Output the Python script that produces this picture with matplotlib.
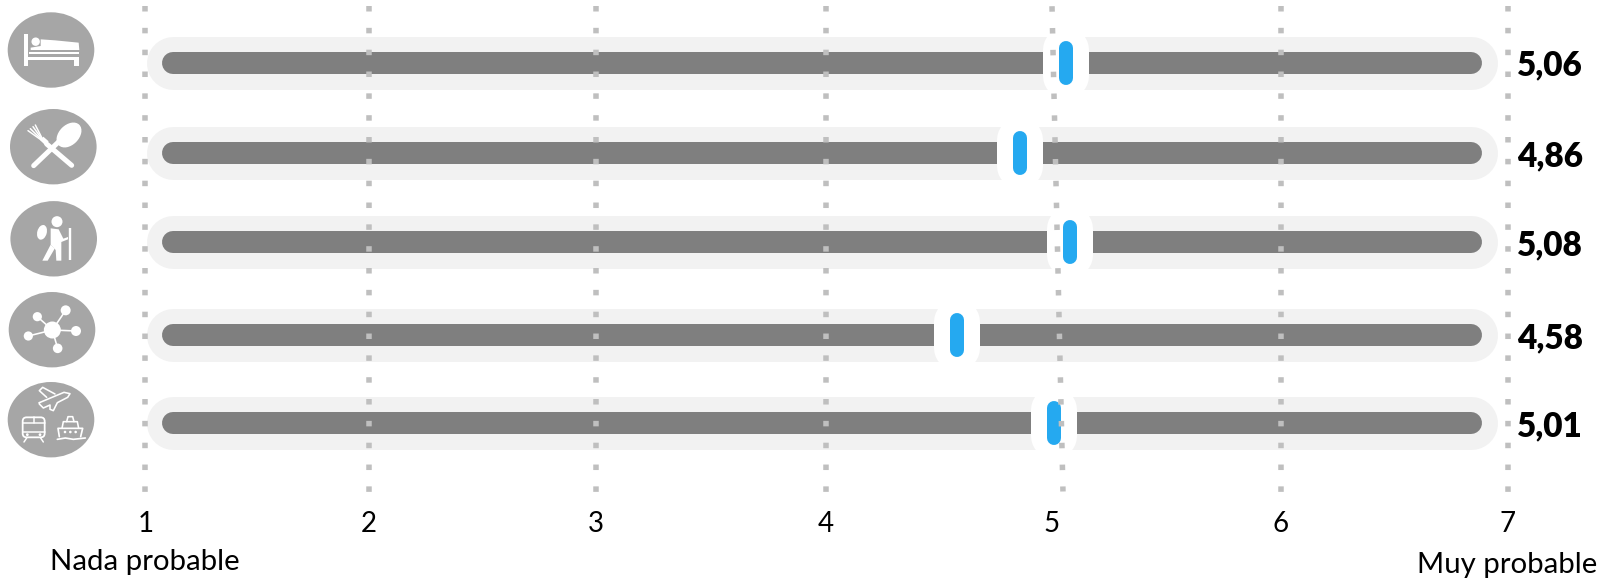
import numpy as np
import matplotlib
matplotlib.use("Agg")
import matplotlib.pyplot as plt
from matplotlib.patches import Ellipse, Polygon, Circle, FancyBboxPatch

# Survey results: mean likelihood score per service category
categories = ["Alojamiento", "Restauración", "Actividades", "Conectividad", "Transporte"]
scores = [5.06, 4.86, 5.08, 4.58, 5.01]
score_labels = ["5,06", "4,86", "5,08", "4,58", "5,01"]
scale_ticks = [1, 2, 3, 4, 5, 6, 7]
scale_ends = ["Nada probable", "Muy probable"]

W, H = 1618, 581
PX = 72 / 100  # points per pixel at 100 dpi

# Layout
tick_px = [145.3, 368.7, 596.3, 825.5, 1052.0, 1280.6, 1507.7]
row_px = [62.5, 153.3, 242.0, 335.0, 423.0]
track_span = (1.124, 6.838)
grid_lean = [0, 0, 0, 0, 0.048, 0, 0]   # the line at 5 runs slightly off vertical
AX_BOTTOM = 500

GREY_ICON = "#a6a6a6"
GREY_TRACK = "#7f7f7f"
GREY_HALO = "#f2f2f2"
GREY_DOT = "#bfbfbf"
BLUE = "#25a9f0"

plt.rcParams["font.family"] = ["Lato", "DejaVu Sans"]

fig = plt.figure(figsize=(W / 100, H / 100), dpi=100)
ax = fig.add_axes([tick_px[0] / W, 1 - AX_BOTTOM / H,
                   (tick_px[-1] - tick_px[0]) / W, AX_BOTTOM / H])


def forward(v):
    return np.interp(v, scale_ticks, tick_px)


def inverse(p):
    return np.interp(p, tick_px, scale_ticks)


ax.set_xscale("function", functions=(forward, inverse))
ax.set_xlim(scale_ticks[0], scale_ticks[-1])
ax.set_ylim(AX_BOTTOM, 0)
for side in ax.spines.values():
    side.set_visible(False)
ax.set_yticks([])
ax.set_xticks(scale_ticks)
ax.set_xticklabels([str(t) for t in scale_ticks], fontsize=20, color="black")
ax.tick_params(axis="x", length=0, pad=8)
ax.minorticks_off()
ax.patch.set_visible(False)

# Track, halo and marker per row
for y, value in zip(row_px, scores):
    ax.plot(track_span, [y, y], color=GREY_HALO, lw=53 * PX,
            solid_capstyle="round", zorder=1, clip_on=False)
    ax.plot(track_span, [y, y], color=GREY_TRACK, lw=22 * PX,
            solid_capstyle="round", zorder=2, clip_on=False)
    ax.plot([value, value], [y - 13, y + 13], color="white", lw=46 * PX,
            solid_capstyle="round", zorder=3, clip_on=False)
    ax.plot([value, value], [y - 15, y + 15], color=BLUE, lw=14 * PX,
            solid_capstyle="round", zorder=4, clip_on=False)

# Dotted scale lines sit above everything else
for t, lean in zip(scale_ticks, grid_lean):
    ax.plot([t, t + lean], [6.2, 491.5], color=GREY_DOT, lw=5.5 * PX,
            linestyle=(0, (1, 2.97)), dash_capstyle="butt", zorder=5, clip_on=False)

for y, text in zip(row_px, score_labels):
    ax.annotate(text, xy=(scale_ticks[-1], y), xytext=(6.7, 0), textcoords="offset points",
                fontsize=24, fontweight="heavy", color="black", ha="left",
                va="center_baseline", annotation_clip=False, zorder=6)

fig.text(144.5 / W, 1 - 570 / H, scale_ends[0], fontsize=21.2, ha="center", va="baseline")
fig.text(1507 / W, 1 - 573 / H, scale_ends[1], fontsize=21.2, ha="center", va="baseline")

# Pictogram layer, in pixel coordinates
ic = fig.add_axes([0, 0, 1, 1], zorder=10)
ic.set_xlim(0, W)
ic.set_ylim(H, 0)
ic.axis("off")

for cx, cy in [(51, 50), (53.3, 146.7), (53.7, 238.8), (52, 329.7), (51, 419.7)]:
    ic.add_patch(Ellipse((cx, cy), 86.6, 75.4, color=GREY_ICON, lw=0))


def pts(coords, dy=0):
    a = np.asarray(coords, float) / 3
    a[:, 1] += dy
    return a


def fill(coords, dy=0):
    ic.add_patch(Polygon(pts(coords, dy), closed=True, color="white", lw=0))


def line(coords, lw, dy=0, cap="round"):
    a = pts(coords, dy)
    ic.plot(a[:, 0], a[:, 1], color="white", lw=lw * PX, solid_capstyle=cap,
            solid_joinstyle="round")


def dot(x, y, r, dy=0):
    ic.add_patch(Circle((x / 3, y / 3 + dy), r, color="white", lw=0))


# Bed
fill([(72, 103), (84, 103), (84, 198), (72, 198)])
fill([(84, 170), (236, 170), (236, 198), (222, 198), (222, 180), (84, 180)])
fill([(122, 118), (165, 121), (236, 128), (238, 150), (92, 150), (92, 143), (122, 138)])
fill([(88, 155), (238, 155), (238, 163), (88, 163)])
dot(107, 125, 4.2)

# Fork and spoon
line([(101, 497), (190, 412)], 5)
ic.add_patch(Ellipse((207 / 3, 405 / 3), 20, 29, angle=45, color="white", lw=0))
line([(215, 496), (140, 432)], 5)
for end in [(84, 392), (91, 386), (99, 380), (106, 375)]:
    line([(132, 426), end], 1.5)
fill([(120, 420), (130, 410), (146, 424), (136, 436)])

# Hiker
dot(171, 665, 5.5)
fill([(152, 685), (176, 688), (190, 716), (204, 711), (204, 718), (184, 726),
      (184, 742), (184, 782), (169, 782), (167, 750), (152, 734)])
fill([(152, 734), (164, 746), (143, 782), (127, 782)])
ic.add_patch(Ellipse((126 / 3, 697 / 3), 9.5, 15, angle=15, color="white", lw=0))
line([(209, 685), (209, 780)], 2.4, cap="butt")

# Network
DY4 = 280
dot(157, 150, 8.5, DY4)
for x, y, r in [(112, 110, 4.6), (197, 91, 5), (85, 168, 4.6), (228, 153, 5), (173, 205, 4.8)]:
    dot(x, y, r, DY4)
    line([(157, 150), (x, y)], 1.6, DY4)

# Plane, train and ship outlines
DY5 = 280
plane = [(118, 368), (192, 337), (210, 341), (203, 352), (172, 368), (160, 392),
         (150, 388), (150, 375), (130, 384), (118, 372)]
line(plane + plane[:1], 1.6, DY5)
line([(140, 352), (118, 332), (128, 322), (165, 342)], 1.6, DY5)
ic.add_patch(FancyBboxPatch((68 / 3, 280 + 412 / 3), 66 / 3, 60 / 3,
                            boxstyle="round,pad=0,rounding_size=4",
                            fc="none", ec="white", lw=1.8 * PX))
line([(68, 430), (134, 430)], 1.5, DY5)
line([(68, 457), (134, 457)], 1.5, DY5)
line([(101, 412), (101, 430)], 1.5, DY5)
line([(80, 474), (72, 486)], 1.5, DY5)
line([(122, 474), (130, 486)], 1.5, DY5)
dot(82, 464, 1.4, DY5)
dot(120, 464, 1.4, DY5)
line([(178, 470), (174, 445), (248, 445), (242, 470)], 1.7, DY5)
line([(186, 445), (190, 425), (232, 425), (236, 445)], 1.6, DY5)
line([(200, 425), (204, 410), (218, 410), (222, 425)], 1.6, DY5)
line([(172, 478), (196, 474), (220, 478), (256, 474)], 1.7, DY5)
dot(195, 456, 1.3, DY5)
dot(211, 456, 1.3, DY5)
dot(227, 456, 1.3, DY5)

fig.savefig("out.png", dpi=100)
